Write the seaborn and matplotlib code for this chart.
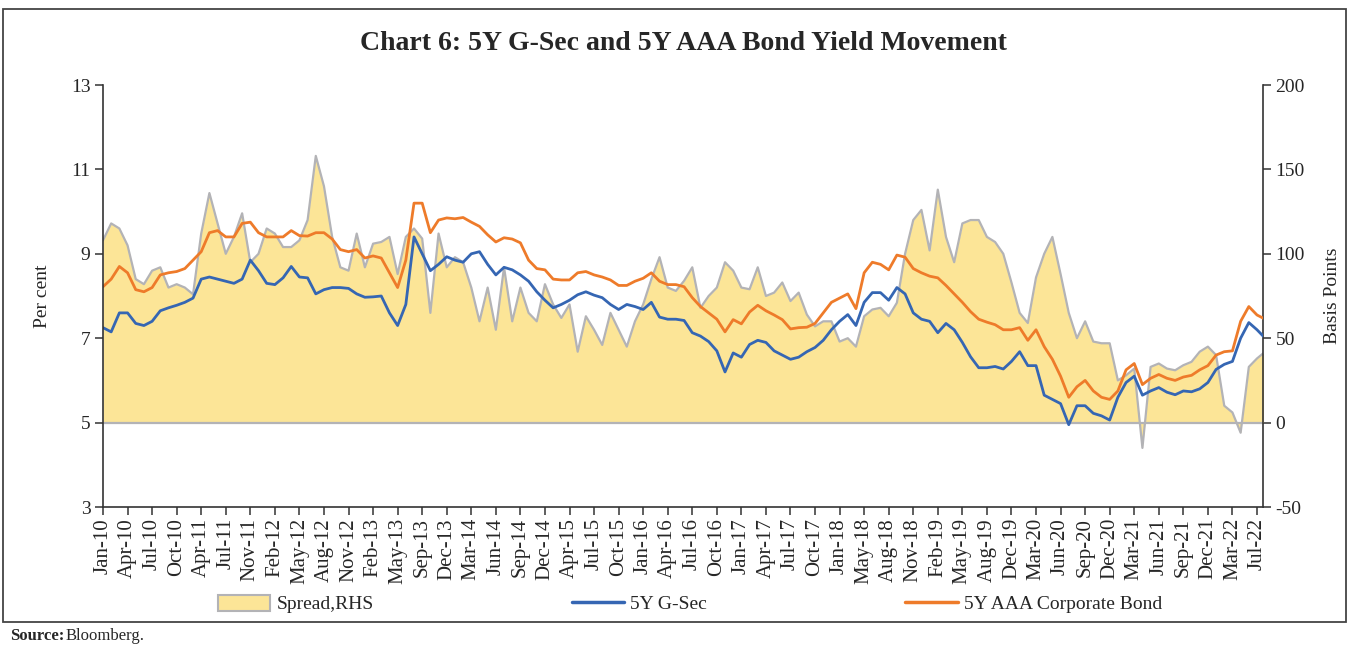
import numpy as np
import pandas as pd
import matplotlib
matplotlib.use("Agg")
import matplotlib.pyplot as plt
import seaborn as sns
from matplotlib.patches import Rectangle, Patch
from matplotlib.lines import Line2D

# ---------------- data (~1 point per month) ----------------
tick_labels = ["Jan-10", "Apr-10", "Jul-10", "Oct-10", "Apr-11", "Jul-11", "Nov-11", "Feb-12",
               "May-12", "Aug-12", "Nov-12", "Feb-13", "May-13", "Sep-13", "Dec-13", "Mar-14",
               "Jun-14", "Sep-14", "Dec-14", "Apr-15", "Jul-15", "Oct-15", "Jan-16", "Apr-16",
               "Jul-16", "Oct-16", "Jan-17", "Apr-17", "Jul-17", "Oct-17", "Jan-18", "May-18",
               "Aug-18", "Nov-18", "Feb-19", "May-19", "Aug-19", "Dec-19", "Mar-20", "Jun-20",
               "Sep-20", "Dec-20", "Mar-21", "Jun-21", "Sep-21", "Dec-21", "Mar-22", "Jul-22"]

gsec = [7.25, 7.15, 7.6, 7.6, 7.35, 7.3, 7.4, 7.65, 7.72, 7.78,
        7.85, 7.95, 8.4, 8.45, 8.4, 8.35, 8.3, 8.4, 8.85, 8.6,
        8.3, 8.27, 8.43, 8.7, 8.45, 8.43, 8.05, 8.15, 8.2, 8.2,
        8.18, 8.05, 7.97, 7.98, 8.0, 7.6, 7.3, 7.8, 9.4, 9.0,
        8.6, 8.75, 8.93, 8.85, 8.8, 9.0, 9.05, 8.75, 8.5, 8.68,
        8.62, 8.5, 8.35, 8.1, 7.9, 7.72, 7.8, 7.9, 8.03, 8.1,
        8.02, 7.96, 7.8, 7.68, 7.8, 7.75, 7.68, 7.85, 7.5, 7.45,
        7.45, 7.42, 7.13, 7.05, 6.92, 6.7, 6.2, 6.65, 6.55, 6.85,
        6.95, 6.9, 6.7, 6.6, 6.5, 6.55, 6.68, 6.78, 6.95, 7.2,
        7.4, 7.56, 7.3, 7.85, 8.08, 8.08, 7.9, 8.2, 8.05, 7.6,
        7.45, 7.4, 7.13, 7.35, 7.2, 6.9, 6.56, 6.3, 6.3, 6.33,
        6.27, 6.45, 6.68, 6.35, 6.35, 5.65, 5.55, 5.45, 4.95, 5.4,
        5.4, 5.22, 5.16, 5.06, 5.6, 5.95, 6.1, 5.65, 5.75, 5.83,
        5.72, 5.66, 5.75, 5.73, 5.8, 5.95, 6.26, 6.38, 6.45, 7.0,
        7.37, 7.2, 7.0]

aaa = [8.22, 8.4, 8.7, 8.55, 8.15, 8.1, 8.2, 8.5, 8.55, 8.58,
       8.65, 8.85, 9.05, 9.5, 9.55, 9.4, 9.4, 9.72, 9.75, 9.5,
       9.4, 9.4, 9.4, 9.55, 9.43, 9.42, 9.5, 9.5, 9.35, 9.1,
       9.05, 9.1, 8.9, 8.95, 8.9, 8.55, 8.2, 8.85, 10.2, 10.2,
       9.5, 9.8, 9.85, 9.83, 9.86, 9.75, 9.65, 9.45, 9.28, 9.38,
       9.35, 9.26, 8.85, 8.65, 8.62, 8.4, 8.38, 8.38, 8.55, 8.58,
       8.5, 8.45, 8.38, 8.25, 8.25, 8.35, 8.42, 8.55, 8.35, 8.27,
       8.27, 8.22, 7.96, 7.75, 7.6, 7.45, 7.15, 7.44, 7.34, 7.62,
       7.78, 7.65, 7.55, 7.44, 7.22, 7.25, 7.26, 7.35, 7.6, 7.85,
       7.95, 8.05, 7.7, 8.55, 8.8, 8.75, 8.62, 8.97, 8.92, 8.65,
       8.55, 8.47, 8.43, 8.25, 8.05, 7.85, 7.63, 7.45, 7.38, 7.32,
       7.2, 7.2, 7.25, 6.95, 7.2, 6.8, 6.5, 6.1, 5.6, 5.85,
       6.0, 5.75, 5.6, 5.55, 5.75, 6.25, 6.4, 5.9, 6.05, 6.14,
       6.05, 6.0, 6.08, 6.12, 6.25, 6.35, 6.6, 6.68, 6.7, 7.4,
       7.75, 7.55, 7.45]

spread = [108, 118, 115, 105, 85, 82, 90, 92, 80, 82,
          80, 76, 112, 136, 118, 100, 110, 124, 95, 100,
          115, 112, 104, 104, 108, 120, 158, 140, 110, 92,
          90, 112, 92, 106, 107, 110, 88, 110, 115, 109,
          65, 112, 92, 98, 95, 80, 60, 80, 55, 92,
          60, 80, 65, 60, 82, 70, 62, 70, 42, 63,
          55, 46, 65, 55, 45, 60, 70, 85, 98, 80,
          78, 84, 92, 68, 75, 80, 95, 90, 80, 79,
          92, 75, 77, 83, 72, 77, 64, 57, 60, 60,
          48, 50, 45, 63, 67, 68, 63, 71, 100, 120,
          126, 102, 138, 110, 95, 118, 120, 120, 110, 107,
          100, 83, 65, 59, 86, 100, 110, 88, 65, 50,
          60, 48, 47, 47, 25, 28, 32, -15, 33, 35,
          32, 31, 34, 36, 42, 45, 40, 10, 6, -6,
          33, 38, 42]

# ---------------- styling ----------------
sns.set_style("ticks")
plt.rcParams["font.family"] = ["Liberation Serif", "DejaVu Serif"]

C_FILL = "#FCE597"
C_GREY = "#B3B3B6"
C_BLUE = "#3566B3"
C_ORANGE = "#EE7B2A"

df = pd.DataFrame({"t": np.arange(len(gsec)), "gsec": gsec, "aaa": aaa, "spread": spread})

W, H = 1349, 657
fig = plt.figure(figsize=(W / 100, H / 100), dpi=100)
ax = fig.add_axes([103 / W, 1 - 507 / H, (1263 - 103) / W, (507 - 85) / H])
ax2 = ax.twinx()

# spread (RHS) drawn behind the yield lines
ax2.fill_between(df["t"], 0, df["spread"], color=C_FILL, lw=0, zorder=1)
sns.lineplot(data=df, x="t", y="spread", ax=ax2, color=C_GREY, lw=1.6, zorder=2, legend=False)
ax2.axhline(0, color=C_GREY, lw=1.6, zorder=2)
ax2.set_ylim(-50, 200)
ax2.set_yticks([-50, 0, 50, 100, 150, 200])
ax2.set_yticklabels(["-50", "0", "50", "100", "150", "200"])
ax2.set_ylabel("Basis Points", fontsize=14, labelpad=14)

ax.set_zorder(ax2.get_zorder() + 1)
ax.patch.set_visible(False)
sns.lineplot(data=df, x="t", y="aaa", ax=ax, color=C_ORANGE, lw=2.0, legend=False)
sns.lineplot(data=df, x="t", y="gsec", ax=ax, color=C_BLUE, lw=2.0, legend=False)
ax.set_ylim(3, 13)
ax.set_yticks([3, 5, 7, 9, 11, 13])
ax.set_ylabel("Per cent", fontsize=14, labelpad=14)
ax.set_xlabel("")
ax2.set_xlabel("")

n_ticks = len(tick_labels)
step = 3
ax.set_xticks(np.arange(n_ticks) * step)
ax.set_xticklabels(tick_labels, rotation=90)
ax.set_xlim(0, (1263 - 103) / (1257 - 103) * (n_ticks - 1) * step)

for a in (ax, ax2):
    a.spines["top"].set_visible(False)
    for s in a.spines.values():
        s.set_color("#333333")
        s.set_linewidth(1.2)
    a.tick_params(axis="both", direction="out", length=6, width=1.1, color="#333333",
                  labelsize=14, pad=3)
ax.spines["right"].set_visible(False)
ax2.spines["left"].set_visible(False)
ax2.spines["bottom"].set_visible(False)
ax.tick_params(axis="x", labelsize=15, pad=2)

# legend
handles = [Patch(facecolor=C_FILL, edgecolor=C_GREY, linewidth=1.5),
           Line2D([], [], color=C_BLUE, lw=2.5),
           Line2D([], [], color=C_ORANGE, lw=2.5)]
labels = ["Spread,RHS", "5Y G-Sec", "5Y AAA Corporate Bond"]
fig.legend(handles, labels, loc="center", bbox_to_anchor=(690 / W, 1 - 604 / H), ncol=3,
           frameon=False, fontsize=14, handlelength=2.7, handleheight=0.9,
           columnspacing=10.2, handletextpad=0.3)

# title and outer box
fig.text(683 / W, 1 - 43 / H, "Chart 6: 5Y G-Sec and 5Y AAA Bond Yield Movement",
         ha="center", va="center", fontsize=20, fontweight="bold")
fig.patches.append(Rectangle((3 / W, 1 - 622 / H), (W - 6) / W, (622 - 9) / H,
                             transform=fig.transFigure, fill=False, edgecolor="#444444",
                             lw=1.3, zorder=0))

fig.text(10 / W, 1 - 636 / H, "Source:", ha="left", va="center", fontsize=12, fontweight="bold")
fig.text(66 / W, 1 - 636 / H, "Bloomberg.", ha="left", va="center", fontsize=12)

fig.savefig("out.png", dpi=100)
